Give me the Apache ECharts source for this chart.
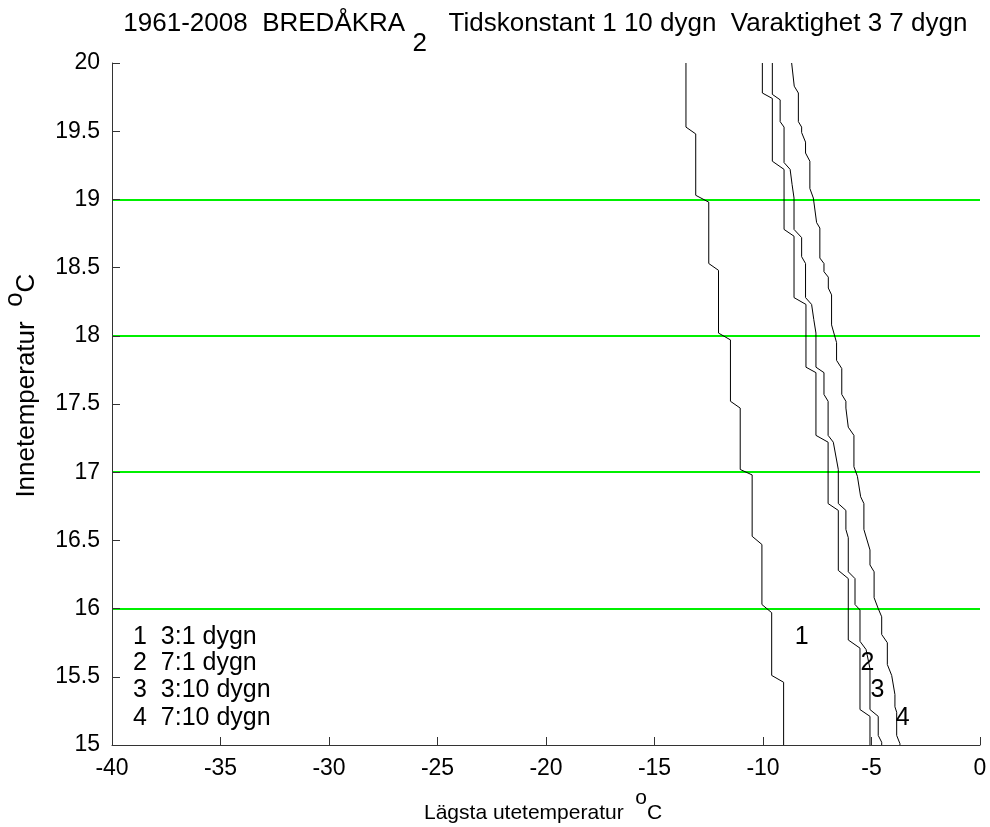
<!DOCTYPE html>
<html>
<head>
<meta charset="utf-8">
<script src="https://cdn.jsdelivr.net/npm/echarts@6/dist/echarts.min.js"></script>
<style>html,body{margin:0;padding:0;background:#fff}#c{width:990px;height:827px}</style>
</head>
<body>
<div id="c"></div>
<script>
// Lines: [Lägsta utetemperatur, Innetemperatur] corner points
const line1 = [[-13.55,20],[-13.55,19.53],[-13.1,19.48],[-13.1,19.03],[-12.5,18.98],[-12.5,18.53],[-12.05,18.48],[-12.05,18.02],[-11.5,17.97],[-11.5,17.52],[-11.05,17.47],[-11.05,17.02],[-10.5,16.98],[-10.5,16.53],[-10.05,16.47],[-10.05,16.03],[-9.6,15.97],[-9.6,15.51],[-9.05,15.46],[-9.05,15]];
const line2 = [[-10.03,20],[-10.03,19.78],[-9.57,19.74],[-9.57,19.28],[-9.03,19.22],[-9.03,18.78],[-8.57,18.73],[-8.57,18.28],[-8.02,18.23],[-8.02,17.77],[-7.56,17.73],[-7.56,17.27],[-7.0,17.22],[-7.0,16.77],[-6.53,16.72],[-6.53,16.28],[-6.07,16.22],[-6.07,15.77],[-5.53,15.71],[-5.53,15.26],[-5.07,15.21],[-5.07,15]];
const line3 = [[-9.57,20],[-9.57,19.77],[-9.21,19.73],[-9.21,19.57],[-9.03,19.53],[-9.03,19.27],[-8.75,19.22],[-8.66,19.11],[-8.57,19.01],[-8.57,18.78],[-8.22,18.72],[-8.22,18.58],[-8.04,18.53],[-8.04,18.28],[-7.76,18.23],[-7.66,18.12],[-7.56,18.02],[-7.56,17.77],[-7.19,17.73],[-7.19,17.57],[-7.0,17.52],[-7.0,17.27],[-6.76,17.22],[-6.53,17.02],[-6.53,16.77],[-6.18,16.72],[-6.18,16.58],[-6.07,16.52],[-6.07,16.27],[-5.76,16.22],[-5.76,16.03],[-5.53,15.99],[-5.53,15.76],[-5.25,15.70],[-5.07,15.56],[-5.07,15.26],[-4.69,15.21],[-4.69,15.07],[-4.53,15.02],[-4.53,15]];
const line4 = [[-8.68,20],[-8.56,19.83],[-8.37,19.78],[-8.37,19.57],[-8.22,19.53],[-8.22,19.49],[-8.04,19.42],[-8.04,19.34],[-7.84,19.28],[-7.84,19.08],[-7.68,19.01],[-7.53,18.83],[-7.38,18.79],[-7.38,18.57],[-7.19,18.53],[-7.19,18.47],[-6.99,18.43],[-6.99,18.35],[-6.84,18.30],[-6.84,18.08],[-6.61,17.95],[-6.61,17.82],[-6.37,17.76],[-6.37,17.57],[-6.18,17.52],[-6.18,17.47],[-6.07,17.33],[-5.81,17.27],[-5.81,17.04],[-5.65,16.97],[-5.50,16.82],[-5.35,16.77],[-5.35,16.58],[-5.07,16.43],[-5.07,16.32],[-4.88,16.27],[-4.88,16.08],[-4.69,16.0],[-4.53,15.94],[-4.53,15.81],[-4.27,15.75],[-4.27,15.59],[-4.07,15.51],[-3.92,15.37],[-3.92,15.28],[-3.84,15.24],[-3.84,15.07],[-3.69,15.01],[-3.69,15]];

const lineNames = ['1', '2', '3', '4'];
const lineLabelPos = [[-8.22,15.79],[-5.19,15.60],[-4.73,15.40],[-3.56,15.20]];
const legendTexts = ['1  3:1 dygn', '2  7:1 dygn', '3  3:10 dygn', '4  7:10 dygn'];
const legendPos = [[-39.03,15.79],[-39.03,15.60],[-39.03,15.40],[-39.03,15.20]];

const FONT = 'Liberation Sans, Arial, sans-serif';
const chart = echarts.init(document.getElementById('c'), null, {renderer: 'canvas'});

const lineSeries = [line1, line2, line3, line4].map(d => ({
  type: 'line', data: d, symbol: 'none', silent: true, z: 3, yAxisIndex: 0,
  lineStyle: {color: '#000', width: 1}
}));

const axisTextRich = (size, lh, gap) => ({
  t: {fontSize: size, fontFamily: FONT, color: '#000', fontWeight: 'normal', lineHeight: lh, verticalAlign: 'bottom'},
  o: {fontSize: size, fontFamily: FONT, color: '#000', fontWeight: 'normal', lineHeight: lh, verticalAlign: 'top'},
  sp: {fontSize: size, fontFamily: FONT, lineHeight: lh + gap}
});

chart.setOption({
  animation: false,
  backgroundColor: '#fff',
  textStyle: {fontFamily: FONT},
  title: {
    left: 544, top: 6, textAlign: 'center',
    text: '{n|1961-2008  BREDÅKRA }{s|2}{n|   Tidskonstant 1 10 dygn  Varaktighet 3 7 dygn}{sp| }',
    textStyle: {
      fontWeight: 'normal',
      rich: {
        n: {fontSize: 26, fontFamily: FONT, color: '#000', fontWeight: 'normal', lineHeight: 30, verticalAlign: 'top'},
        s: {fontSize: 26, fontFamily: FONT, color: '#000', fontWeight: 'normal', lineHeight: 30, verticalAlign: 'bottom'},
        sp: {fontSize: 26, fontFamily: FONT, lineHeight: 46}
      }
    }
  },
  grid: {left: 112, right: 10, top: 63, bottom: 82, containLabel: false, outerBoundsMode: 'none'},
  xAxis: {
    type: 'value', min: -40, max: 0, interval: 5,
    axisLine: {show: true, onZero: false, lineStyle: {color: '#333', width: 1}},
    axisTick: {show: true, inside: true, length: 8, lineStyle: {color: '#333'}},
    axisLabel: {color: '#000', fontSize: 23, fontFamily: FONT, margin: 12},
    splitLine: {show: false},
    name: '{t|Lägsta utetemperatur  }{o|o}{t|C}{sp| }',
    nameLocation: 'middle', nameGap: 43,
    nameTextStyle: {rich: axisTextRich(21, 26, 10)}
  },
  yAxis: [{
    type: 'value', min: 15, max: 20, interval: 0.5,
    axisLine: {show: true, onZero: false, lineStyle: {color: '#333', width: 1}},
    axisTick: {show: true, inside: true, length: 8, lineStyle: {color: '#333'}},
    axisLabel: {color: '#000', fontSize: 23, fontFamily: FONT, margin: 12},
    splitLine: {show: false},
    name: '{t|Innetemperatur  }{o|o}{t|C}{sp| }',
    nameLocation: 'middle', nameGap: 72, nameRotate: 90,
    nameTextStyle: {padding: [0, 0, 0, 44], rich: axisTextRich(26, 30, 8)}
  }, {
    type: 'value', min: 15, max: 20, interval: 1, position: 'left',
    axisLine: {show: false}, axisTick: {show: false}, axisLabel: {show: false},
    splitLine: {show: true, showMinLine: false, showMaxLine: false, lineStyle: {color: '#00f000', width: 2}}
  }],
  series: lineSeries.concat([
    {
      type: 'scatter', symbolSize: 0, silent: true, z: 5,
      data: lineNames.map((n, i) => ({name: n, value: lineLabelPos[i]})),
      label: {show: true, position: 'inside', formatter: p => p.name, color: '#000', opacity: 1, textBorderWidth: 0, fontSize: 25, fontFamily: FONT}
    },
    {
      type: 'scatter', symbolSize: 0, silent: true, z: 5,
      data: legendTexts.map((t, i) => ({name: t, value: legendPos[i]})),
      label: {show: true, position: 'right', distance: 0, formatter: p => p.name, color: '#000', opacity: 1, textBorderWidth: 0, fontSize: 25, fontFamily: FONT}
    }
  ])
});
</script>
</body>
</html>
